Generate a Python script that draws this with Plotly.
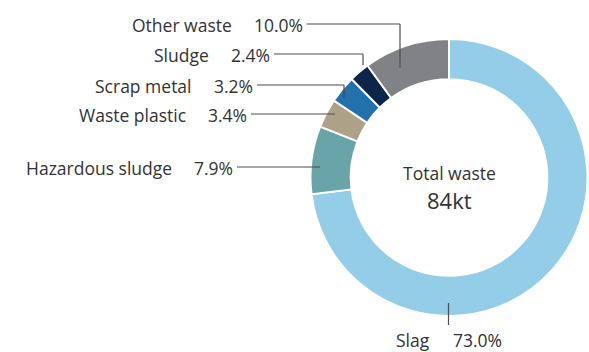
import plotly.graph_objects as go

# Waste composition (share of total, %)
categories = ["Slag", "Hazardous sludge", "Waste plastic", "Scrap metal", "Sludge", "Other waste"]
shares = [73.0, 7.9, 3.4, 3.2, 2.4, 10.0]
total_label = "Total waste"
total_value = "84kt"

colors = ["#93CDE7", "#68A4A8", "#ADA288", "#2270AC", "#0C2548", "#808285"]

W, H = 589, 352
CX, CY, R = 449, 177.5, 138.5  # ring centre and outer radius, px


def px(x):
    return x / W


def py(y):
    return 1 - y / H


fig = go.Figure(
    go.Pie(
        labels=categories,
        values=shares,
        sort=False,
        direction="clockwise",
        rotation=0,
        hole=0.71,
        marker=dict(colors=colors, line=dict(color="white", width=2)),
        textinfo="none",
        hoverinfo="label+percent",
        showlegend=False,
        domain=dict(x=[px(CX - R), px(CX + R)], y=[py(CY + R), py(CY - R)]),
    )
)

FONT = "'Open Sans', sans-serif"
FS = 17.5
TXT = "#333333"
LINE = "#4d4d4d"

# Left-hand callouts: label y, x where the value text starts, leader elbow x, leader end y
callouts = {
    "Other waste": (25, 253, 400, 68),
    "Sludge": (55, 230, 363, 65),
    "Scrap metal": (86, 213, 344, 98),
    "Waste plastic": (115, 207, 335, 113),
    "Hazardous sludge": (168, 193, 320, 167),
}


def label(x, y, text, anchor, size=FS):
    return dict(x=px(x), y=py(y), text=text, xanchor=anchor, yanchor="middle", borderpad=0,
                showarrow=False, font=dict(family=FONT, size=size, color=TXT))


annotations = []
shapes = []
for name, share in zip(categories, shares):
    if name not in callouts:
        continue
    ty, vx, ex, ey = callouts[name]
    annotations.append(label(vx - 20, ty, name, "right"))
    annotations.append(label(vx, ty, f"{share:.1f}%", "left"))
    ly = ty - 1
    start = vx + (len(f"{share:.1f}%") * 9.5) + 6
    shapes.append(dict(type="line", xref="paper", yref="paper", x0=px(start), y0=py(ly), x1=px(ex), y1=py(ly),
                       line=dict(color=LINE, width=1.2)))
    if abs(ey - ly) > 2:
        shapes.append(dict(type="line", xref="paper", yref="paper", x0=px(ex), y0=py(ly), x1=px(ex), y1=py(ey),
                           line=dict(color=LINE, width=1.2)))

# Slag callout below the ring
slag_share = shares[categories.index("Slag")]
annotations.append(label(431, 339.5, "Slag", "right"))
annotations.append(label(452, 339.5, f"{slag_share:.1f}%", "left"))
shapes.append(dict(type="line", xref="paper", yref="paper", x0=px(448.5), y0=py(303), x1=px(448.5), y1=py(325),
                   line=dict(color=LINE, width=1.2)))

# Centre text
annotations.append(label(CX, 173, total_label, "center"))
annotations.append(label(CX, 200, total_value, "center", size=22))

fig.update_layout(
    width=W,
    height=H,
    margin=dict(l=0, r=0, t=0, b=0),
    paper_bgcolor="white",
    plot_bgcolor="white",
    annotations=annotations,
    shapes=shapes,
)

fig.write_html("out.html")
